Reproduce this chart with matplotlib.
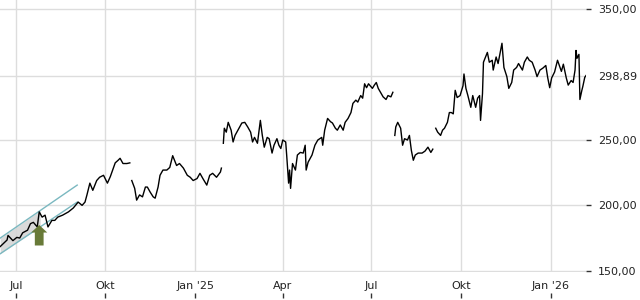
import matplotlib
matplotlib.use("Agg")
import matplotlib.pyplot as plt
import matplotlib.dates as mdates
import numpy as np
import pandas as pd

nan = np.nan

# ---- price series (gaps = NaN) ----
dates = [
    "2024-06-15","2024-06-22","2024-06-23","2024-06-28","2024-07-02","2024-07-05","2024-07-08","2024-07-13",
    "2024-07-16","2024-07-19","2024-07-23","2024-07-25","2024-07-28","2024-07-31","2024-08-03","2024-08-07",
    "2024-08-10","2024-08-13","2024-08-18","2024-08-24","2024-08-29","2024-09-03","2024-09-07","2024-09-10",
    "2024-09-12","2024-09-15","2024-09-18","2024-09-22","2024-09-25","2024-09-29","2024-10-03","2024-10-06",
    "2024-10-11","2024-10-14","2024-10-16","2024-10-19","2024-10-23","2024-10-26","2024-10-27",
    "2024-10-28","2024-10-31","2024-11-02","2024-11-05","2024-11-08","2024-11-11","2024-11-13","2024-11-16",
    "2024-11-19","2024-11-21","2024-11-24","2024-11-26","2024-11-29","2024-12-03","2024-12-06","2024-12-09",
    "2024-12-13","2024-12-16","2024-12-20","2024-12-24","2024-12-27","2024-12-30","2025-01-03","2025-01-06",
    "2025-01-09","2025-01-13","2025-01-16","2025-01-19","2025-01-23","2025-01-27","2025-01-28","2025-01-29",
    "2025-01-30","2025-01-31","2025-02-02","2025-02-04","2025-02-07","2025-02-09","2025-02-11","2025-02-14",
    "2025-02-18","2025-02-21","2025-02-24","2025-02-27","2025-03-01","2025-03-03","2025-03-06","2025-03-09",
    "2025-03-11","2025-03-13","2025-03-16","2025-03-18","2025-03-21","2025-03-23","2025-03-26","2025-03-28",
    "2025-03-30","2025-04-01","2025-04-04","2025-04-05","2025-04-07","2025-04-08","2025-04-09","2025-04-11",
    "2025-04-14","2025-04-16","2025-04-19","2025-04-22","2025-04-24","2025-04-25","2025-04-27","2025-05-01",
    "2025-05-04","2025-05-07","2025-05-11","2025-05-12","2025-05-14","2025-05-17","2025-05-20","2025-05-22",
    "2025-05-25","2025-05-27","2025-05-30","2025-06-02","2025-06-04","2025-06-07","2025-06-10","2025-06-12",
    "2025-06-15","2025-06-17","2025-06-20","2025-06-22","2025-06-24","2025-06-26","2025-06-28","2025-07-02",
    "2025-07-04","2025-07-06","2025-07-08","2025-07-11","2025-07-13","2025-07-16","2025-07-18","2025-07-21",
    "2025-07-23","2025-07-24",
    "2025-07-25","2025-07-26","2025-07-28","2025-07-31","2025-08-02","2025-08-04","2025-08-07","2025-08-09",
    "2025-08-11","2025-08-13","2025-08-15","2025-08-18","2025-08-22","2025-08-25","2025-08-28","2025-08-31",
    "2025-09-02","2025-09-03",
    "2025-09-05","2025-09-07","2025-09-10","2025-09-12","2025-09-14","2025-09-17","2025-09-19","2025-09-21",
    "2025-09-23","2025-09-25","2025-09-27","2025-09-30","2025-10-03","2025-10-04","2025-10-06","2025-10-08",
    "2025-10-11","2025-10-13","2025-10-16","2025-10-18","2025-10-20","2025-10-21","2025-10-23","2025-10-24",
    "2025-10-28","2025-10-30","2025-11-02","2025-11-03","2025-11-06","2025-11-08","2025-11-12","2025-11-14",
    "2025-11-17","2025-11-19","2025-11-22","2025-11-24","2025-11-27","2025-11-29","2025-12-03","2025-12-05",
    "2025-12-08","2025-12-10","2025-12-13","2025-12-16","2025-12-18","2025-12-21","2025-12-24","2025-12-27",
    "2025-12-29","2025-12-31","2026-01-02","2026-01-05","2026-01-08","2026-01-12","2026-01-14","2026-01-17",
    "2026-01-19","2026-01-22","2026-01-24","2026-01-26","2026-01-27","2026-01-28","2026-01-30","2026-01-31",
    "2026-02-02","2026-02-03","2026-02-05","2026-02-07",
]
prices = [
    168.5,173.5,177,173,175.5,175,179,181,
    186,187,183.5,195,191,192.5,183.5,188.5,
    188.5,191,192.5,195,198,202.5,200,202.5,
    208,217,211.5,219,221.5,223,217,222,
    232.5,234.5,236,232,232,232.5,nan,
    219,213,204,208,206.5,214,214,210,
    206.5,205.5,214,223,227,227,229,238,
    230.5,232,228.5,223,221.5,219,220.5,224.5,
    220.5,215.5,223,224.5,221.5,225.5,228.5,nan,
    247.5,259,256,263.5,257.5,248.5,253.5,257.5,
    263,263.5,260,256,248.5,252,247.5,265,
    253.5,244.5,252,251,240,246,251,246,
    243.5,250,248.5,238.5,217,227,213,232,
    227,238.5,240.5,240,246,227,233,238.5,
    246,250,252,246,257.5,266.5,264,263,
    259,257.5,261.5,257.5,263.5,266.5,271,278,
    280.5,279,284,282,293,290,293,289.5,
    292,294,289.5,285.5,283,281,284,283,
    286.5,nan,
    253.5,260,263.5,259,246,251,250,253.5,
    242,234.5,238.5,240,240,241.5,244.5,240.5,
    243,nan,
    259,256,253.5,257.5,259,263.5,271,271,
    270,288,282.5,284,291.5,300.5,289.5,284,
    275,284,275,282,284,265,285.5,309.5,
    317,309.5,311,303.5,313.5,308.5,324,305.5,
    298.5,289.5,294,303.5,305.5,308.5,303.5,309.5,
    313.5,311,309.5,303.5,298.5,303.5,305,307,
    297.5,290,297.5,302,311,302.5,308,297.5,
    292,295.5,294,303.5,318.5,312.5,315.5,281,
    288,291,298,300,
]

# ---- trend channel ----
channel_dates = ["2024-06-15", "2024-09-02"]
channel_upper = [175.0, 215.5]
channel_lower = [163.0, 202.5]
channel_fill_end = "2024-07-26"

# ---- buy signal arrow ----
arrow_date = "2024-07-25"
arrow_bottom = 169.3
arrow_top = 185.0

# ---- axes ----
xtick_dates = ["2024-07-01", "2024-10-01", "2025-01-01", "2025-04-01",
               "2025-07-01", "2025-10-01", "2026-01-01"]
xtick_labels = ["Jul", "Okt", "Jan '25", "Apr", "Jul", "Okt", "Jan '26"]
ytick_values = [150, 200, 250, 298.89, 350]
last_price = 298.89

x = mdates.date2num(pd.to_datetime(dates))
y = np.array(prices, dtype=float)

fig = plt.figure(figsize=(6.4, 3.0), dpi=100)
W, H = 640, 300
ax_bottom_px = 271.5
ax = fig.add_axes([0, (H - ax_bottom_px) / H, 586 / W, ax_bottom_px / H])

grid_c = "#dddddd"
txt_c = "#222222"

# channel
cx = mdates.date2num(pd.to_datetime(channel_dates))
fx = np.array([cx[0], mdates.date2num(pd.Timestamp(channel_fill_end))])
fu = np.interp(fx, cx, channel_upper)
fl = np.interp(fx, cx, channel_lower)
ax.fill_between(fx, fl, fu, color="#d6d6d6", alpha=0.9, lw=0, zorder=1)
ax.plot(cx, channel_upper, color="#7ab8c0", lw=1.0, zorder=2)
ax.plot(cx, channel_lower, color="#7ab8c0", lw=1.0, zorder=2)

# price line
ax.plot(x, y, color="black", lw=1.0, zorder=4)

# arrow
ax_x = mdates.date2num(pd.Timestamp(arrow_date))
ax.arrow(ax_x, arrow_bottom, 0, arrow_top - arrow_bottom, width=9.0,
         head_width=16.5, head_length=5.8, length_includes_head=True,
         color="#687a38", lw=0, zorder=5)

# limits
x0 = mdates.date2num(pd.Timestamp("2024-06-14 18:00"))
x1 = mdates.date2num(pd.Timestamp("2026-02-06 06:00"))
ax.set_xlim(x0, x1)
ax.set_ylim(149.4, 357.1)

for s in ax.spines.values():
    s.set_visible(False)

# grid
xt = mdates.date2num(pd.to_datetime(xtick_dates))
ax.set_xticks(xt)
ax.set_xticklabels(xtick_labels)
ax.tick_params(axis="x", length=0, pad=7, labelsize=8, labelcolor=txt_c)
for v in xt:
    ax.axvline(v, color=grid_c, lw=1, zorder=0)
for v in ytick_values:
    ax.axhline(v, color=grid_c, lw=1, zorder=0)

ax.yaxis.tick_right()
ax.set_yticks(ytick_values)
ax.set_yticklabels([f"{v:.2f}".replace(".", ",") for v in ytick_values])
ax.tick_params(axis="y", direction="out", length=3.5, width=1, pad=5,
               labelsize=8, labelcolor=txt_c, color="#333333")
for t in ax.yaxis.get_major_ticks():
    if abs(t.get_loc() - last_price) < 1e-6:
        t.tick2line.set_visible(False)

# small tick marks below the x labels
sec = ax.secondary_xaxis(-(297.5 - ax_bottom_px) / ax_bottom_px)
sec.set_xticks(xt)
sec.set_xticklabels([""] * len(xt))
sec.tick_params(axis="x", direction="in", length=3.5, width=1, color="#333333")
for s in sec.spines.values():
    s.set_visible(False)

fig.savefig("out.png", dpi=100)
